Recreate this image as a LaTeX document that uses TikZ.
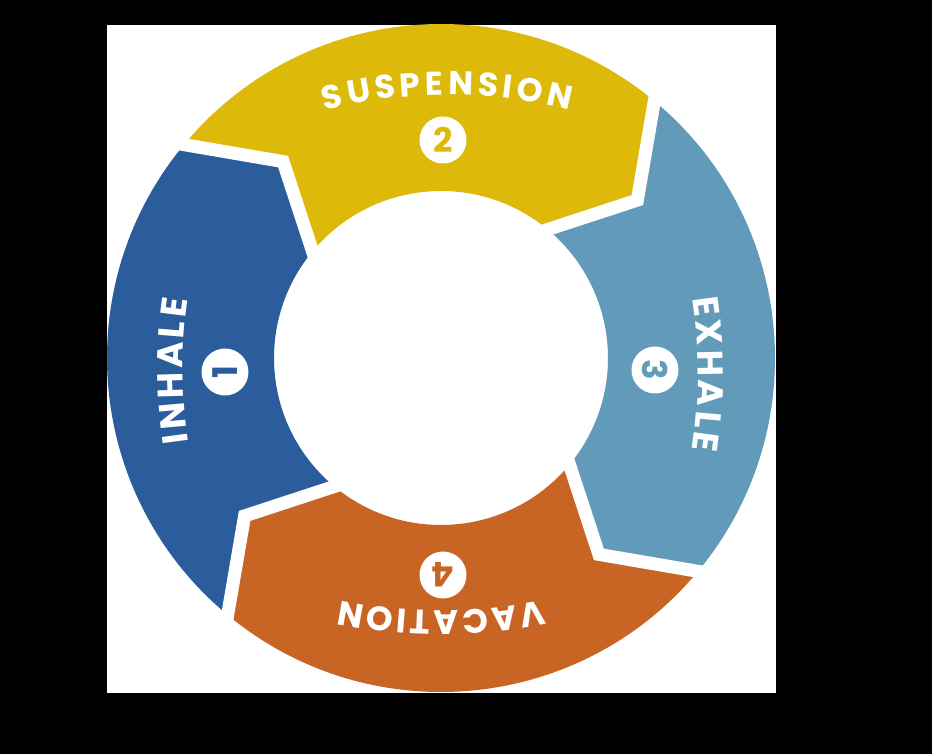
\documentclass[tikz,border=0pt]{standalone}
\usepackage{fontspec}
\newfontfamily\lblfont{Poppins}
\usetikzlibrary{decorations.text,calc}
\definecolor{cInh}{RGB}{43,92,155}
\definecolor{cSus}{RGB}{221,185,10}
\definecolor{cExh}{RGB}{98,155,185}
\definecolor{cVac}{RGB}{200,101,36}
\begin{document}
\begin{tikzpicture}[x=1pt,y=1pt,
  gapline/.style={draw=white, line width=13pt, line join=miter, miter limit=20},
  numc/.style={circle, fill=white, minimum size=47pt, inner sep=0pt,
    font=\lblfont\bfseries\fontsize{34}{34}\selectfont},
  lbl/.style={decorate, decoration={text along path, text align=fit to path, text color=white, text={#1}}}
]
% canvas
\useasboundingbox (-441,-396) rectangle (491,358);
\fill[black] (-441,-396) rectangle (491,358);
\fill[white] (-334,-335) rectangle (335,333);

% segments (clockwise arrows)
\fill[cSus] (140.3:334) arc[start angle=140.3,end angle=50.3,radius=334] -- (38.8:252) -- (50.3:167)
  arc[start angle=50.3,end angle=140.3,radius=167] -- (128.8:252) -- cycle;
\fill[cExh] (50.3:334) arc[start angle=50.3,end angle=-39.7,radius=334] -- (-51.2:252) -- (-39.7:167)
  arc[start angle=-39.7,end angle=50.3,radius=167] -- (38.8:252) -- cycle;
\fill[cVac] (-39.7:334) arc[start angle=-39.7,end angle=-129.7,radius=334] -- (-141.2:252) -- (-129.7:167)
  arc[start angle=-129.7,end angle=-39.7,radius=167] -- (-51.2:252) -- cycle;
\fill[cInh] (-129.7:334) arc[start angle=-129.7,end angle=-219.7,radius=334] -- (-231.2:252) -- (-219.7:167)
  arc[start angle=-219.7,end angle=-129.7,radius=167] -- (-141.2:252) -- cycle;

% tips (shared by head and notch)
\coordinate (t1) at (128.8:252);
\coordinate (t2) at (38.8:252);
\coordinate (t3) at (-51.2:252);
\coordinate (t4) at (-141.2:252);
\coordinate (o1) at (140.3:334); \coordinate (i1) at (140.3:167);
\coordinate (o2) at (50.3:334);  \coordinate (i2) at (50.3:167);
\coordinate (o3) at (-39.7:334); \coordinate (i3) at (-39.7:167);
\coordinate (o4) at (-129.7:334);\coordinate (i4) at (-129.7:167);

% white gaps
\foreach \k in {1,2,3,4}{
  \draw[gapline] ($(t\k)!1.12!(o\k)$) -- (t\k) -- ($(t\k)!1.2!(i\k)$);
}

% labels
\path[lbl={|\lblfont\bfseries\fontsize{33}{33}\selectfont|SUSPENSION}]
  (6.5,-237) ++(104.18:500) arc[start angle=104.18,end angle=75.82,radius=500];
\path[lbl={|\lblfont\bfseries\fontsize{34}{34}\selectfont|VACATION}]
  (0.5,247) ++(281.7:500) arc[start angle=281.7,end angle=258.3,radius=500];
\path[lbl={|\lblfont\bfseries\fontsize{36}{36}\selectfont|INHALE}]
  (242,-13) ++(188.2:500) arc[start angle=188.2,end angle=171.8,radius=500];
\path[lbl={|\lblfont\bfseries\fontsize{36}{36}\selectfont|EXHALE}]
  (-243,-16) ++(8.74:500) arc[start angle=8.74,end angle=-8.74,radius=500];

% numbers
\node[numc, text=cSus] (n2) at (2,218) {2};
\node[numc, text=cInh, rotate=90] (n1) at (-216,-14) {1};
\node[numc, text=cExh, rotate=-90] (n3) at (214,-12) {3};
\node[numc, text=cVac, rotate=180] (n4) at (2,-217) {4};
\end{tikzpicture}
\end{document}
